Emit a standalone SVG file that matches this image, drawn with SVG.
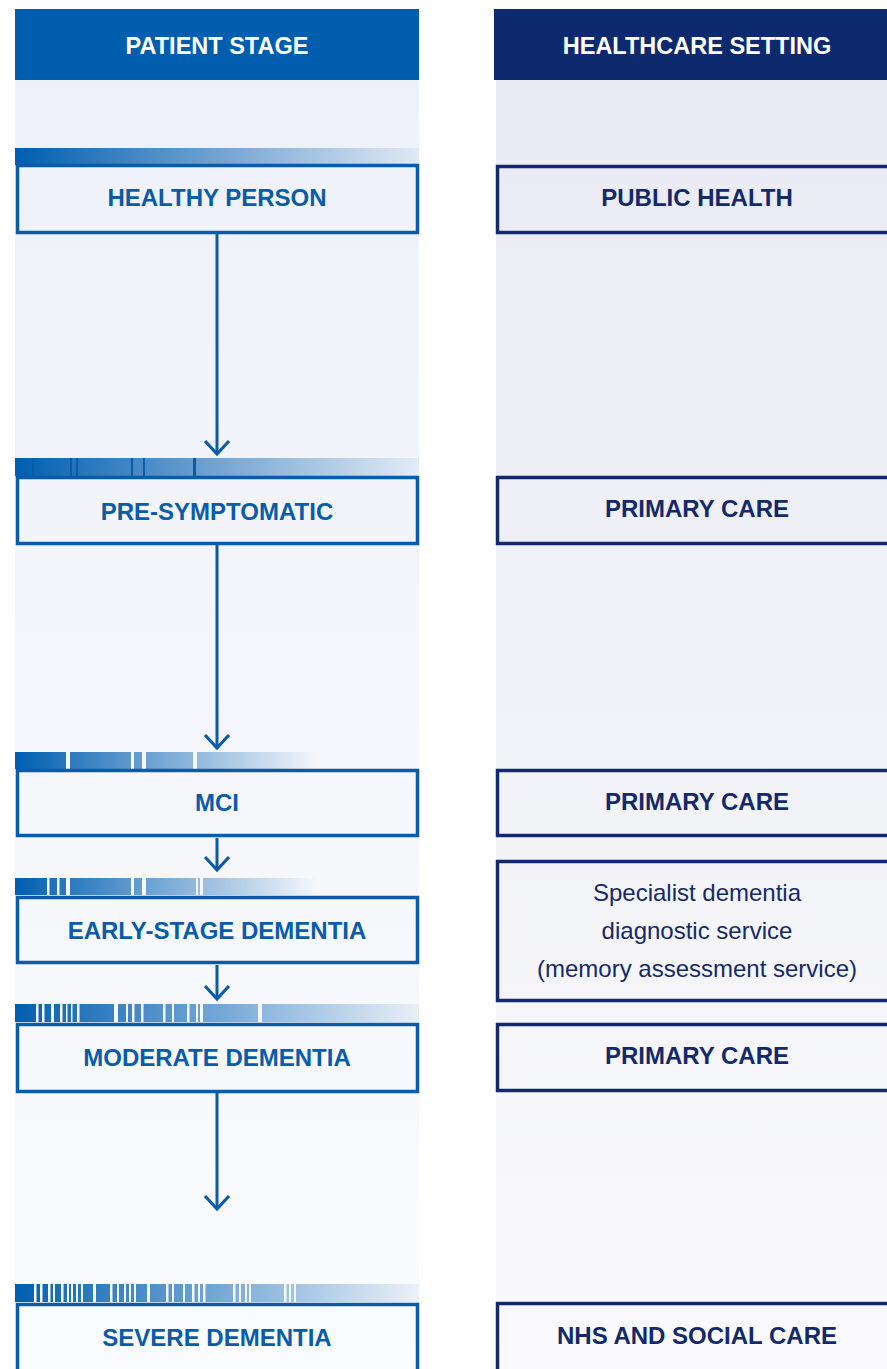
<svg xmlns="http://www.w3.org/2000/svg" width="887" height="1369" viewBox="0 0 887 1369">
<defs>
<linearGradient id="bgL" x1="0" y1="0" x2="0" y2="1"><stop offset="0" stop-color="#EEF1F9"/><stop offset="1" stop-color="#FAFBFD"/></linearGradient>
<linearGradient id="bgR" x1="0" y1="0" x2="0" y2="1"><stop offset="0" stop-color="#E9EAF3"/><stop offset="1" stop-color="#FAFAFC"/></linearGradient>
<linearGradient id="barFull" x1="0" y1="0" x2="1" y2="0"><stop offset="0" stop-color="#005EB0"/><stop offset="1" stop-color="#005EB0" stop-opacity="0.06"/></linearGradient>
<linearGradient id="barShort" x1="0" y1="0" x2="1" y2="0"><stop offset="0" stop-color="#005EB0"/><stop offset="0.75" stop-color="#005EB0" stop-opacity="0"/></linearGradient>
<marker id="chev" markerUnits="userSpaceOnUse" markerWidth="40" markerHeight="40" viewBox="-20 -20 40 40" refX="0" refY="0" orient="auto" overflow="visible">
<path d="M-13,-12 L0,0 L-13,12" fill="none" stroke="#0A5BA9" stroke-width="3.2"/>
</marker>
<style>
.hd{font-family:"Liberation Sans",Arial,sans-serif;font-weight:bold;font-size:23.5px;fill:#fff;text-anchor:middle}
.lb{fill:none;stroke:#0A5BA9;stroke-width:3.5}
.rb{fill:none;stroke:#13296B;stroke-width:3.5}
.lt{font-family:"Liberation Sans",Arial,sans-serif;font-weight:bold;font-size:24px;fill:#0A5BA9;text-anchor:middle}
.rt{font-family:"Liberation Sans",Arial,sans-serif;font-weight:bold;font-size:24px;fill:#13296B;text-anchor:middle}
.rn{font-family:"Liberation Sans",Arial,sans-serif;font-size:24px;fill:#13296B;text-anchor:middle}
.cn{stroke:#0A5BA9;stroke-width:3;fill:none;marker-end:url(#chev)}
.w{fill:#F5F7FB}
.d{fill:#0A5BA9}
</style>
</defs>
<rect width="887" height="1369" fill="#FFFFFF"/>
<rect x="15" y="80" width="404" height="1289" fill="url(#bgL)"/>
<rect x="496" y="80" width="391" height="1289" fill="url(#bgR)"/>
<g id="header-patient">
<rect x="15" y="9" width="404" height="71" fill="#015DAD"/>
<text class="hd" x="217" y="54">PATIENT STAGE</text>
</g>
<g id="header-setting">
<rect x="494" y="9" width="393" height="71" fill="#0E2A6F"/>
<text class="hd" x="697" y="54">HEALTHCARE SETTING</text>
</g>
<g id="connectors">
<line class="cn" x1="217" y1="234" x2="217" y2="454"/>
<line class="cn" x1="217" y1="545" x2="217" y2="748"/>
<line class="cn" x1="217" y1="838" x2="217" y2="870"/>
<line class="cn" x1="217" y1="965" x2="217" y2="999"/>
<line class="cn" x1="217" y1="1093" x2="217" y2="1209"/>
</g>
<g id="node-healthy">
<rect x="15" y="148" width="404" height="17" fill="url(#barFull)"/>
<rect class="lb" x="17.5" y="165.5" width="400" height="67"/>
<text class="lt" x="217" y="206">HEALTHY PERSON</text>
</g>
<g id="node-presymptomatic">
<rect x="15" y="458" width="404" height="18" fill="url(#barFull)"/>
<g class="d"><rect x="32" y="458" width="2" height="18"/><rect x="70" y="458" width="2" height="18"/><rect x="76" y="458" width="2" height="18"/><rect x="131" y="458" width="2" height="18"/><rect x="143" y="458" width="2" height="18"/><rect x="193" y="458" width="3" height="18"/></g>
<rect class="lb" x="17.5" y="477.5" width="400" height="66"/>
<text class="lt" x="217" y="520">PRE-SYMPTOMATIC</text>
</g>
<g id="node-mci">
<rect x="15" y="752" width="404" height="17" fill="url(#barShort)"/>
<g class="w"><rect x="66" y="752" width="4" height="17"/><rect x="131" y="752" width="3" height="17"/><rect x="142" y="752" width="4" height="17"/><rect x="193" y="752" width="4" height="17"/></g>
<rect class="lb" x="17.5" y="770.5" width="400" height="65"/>
<text class="lt" x="217" y="811">MCI</text>
</g>
<g id="node-early">
<rect x="15" y="878" width="404" height="17" fill="url(#barShort)"/>
<g class="w"><rect x="47" y="878" width="2.5" height="17"/><rect x="57" y="878" width="2.5" height="17"/><rect x="66" y="878" width="4" height="17"/><rect x="131" y="878" width="3" height="17"/><rect x="142" y="878" width="4" height="17"/><rect x="196" y="878" width="2" height="17"/><rect x="200" y="878" width="3" height="17"/></g>
<rect class="lb" x="17.5" y="897.5" width="400" height="65"/>
<text class="lt" x="217" y="939">EARLY-STAGE DEMENTIA</text>
</g>
<g id="node-moderate">
<rect x="15" y="1004" width="404" height="18" fill="url(#barFull)"/>
<g class="w"><rect x="36" y="1004" width="2.5" height="18"/><rect x="42" y="1004" width="2.5" height="18"/><rect x="51" y="1004" width="3" height="18"/><rect x="60" y="1004" width="2.5" height="18"/><rect x="66" y="1004" width="1.5" height="18"/><rect x="71" y="1004" width="1.5" height="18"/><rect x="77" y="1004" width="2.5" height="18"/><rect x="114" y="1004" width="4" height="18"/><rect x="126" y="1004" width="2" height="18"/><rect x="132" y="1004" width="2.5" height="18"/><rect x="141" y="1004" width="2.5" height="18"/><rect x="163" y="1004" width="2.5" height="18"/><rect x="172" y="1004" width="2" height="18"/><rect x="187" y="1004" width="2.5" height="18"/><rect x="196" y="1004" width="2" height="18"/><rect x="200" y="1004" width="3" height="18"/><rect x="258" y="1004" width="4" height="18"/></g>
<rect class="lb" x="17.5" y="1024.5" width="400" height="67"/>
<text class="lt" x="217" y="1066">MODERATE DEMENTIA</text>
</g>
<g id="node-severe">
<rect x="15" y="1284" width="404" height="18" fill="url(#barFull)"/>
<g class="w"><rect x="34" y="1284" width="2.5" height="18"/><rect x="40" y="1284" width="2.5" height="18"/><rect x="48" y="1284" width="2.5" height="18"/><rect x="53" y="1284" width="2" height="18"/><rect x="61" y="1284" width="2.5" height="18"/><rect x="67" y="1284" width="2" height="18"/><rect x="71" y="1284" width="2" height="18"/><rect x="76" y="1284" width="2" height="18"/><rect x="81" y="1284" width="2" height="18"/><rect x="93" y="1284" width="3" height="18"/><rect x="110" y="1284" width="2.5" height="18"/><rect x="117" y="1284" width="2" height="18"/><rect x="124" y="1284" width="2" height="18"/><rect x="129" y="1284" width="2" height="18"/><rect x="134" y="1284" width="2" height="18"/><rect x="147" y="1284" width="3" height="18"/><rect x="166" y="1284" width="2.5" height="18"/><rect x="172" y="1284" width="2" height="18"/><rect x="183" y="1284" width="2" height="18"/><rect x="192" y="1284" width="2.5" height="18"/><rect x="198" y="1284" width="2" height="18"/><rect x="203" y="1284" width="2.5" height="18"/><rect x="233" y="1284" width="2.5" height="18"/><rect x="239" y="1284" width="2" height="18"/><rect x="245" y="1284" width="2" height="18"/><rect x="249" y="1284" width="2" height="18"/><rect x="284" y="1284" width="2.5" height="18"/><rect x="289" y="1284" width="2" height="18"/><rect x="294" y="1284" width="2" height="18"/></g>
<rect class="lb" x="17.5" y="1304.5" width="400" height="70"/>
<text class="lt" x="217" y="1346">SEVERE DEMENTIA</text>
</g>
<g id="node-public-health">
<rect class="rb" x="497.5" y="166.5" width="400" height="66"/>
<text class="rt" x="697" y="206">PUBLIC HEALTH</text>
</g>
<g id="node-primary-1">
<rect class="rb" x="497.5" y="477.5" width="400" height="66"/>
<text class="rt" x="697" y="517">PRIMARY CARE</text>
</g>
<g id="node-primary-2">
<rect class="rb" x="497.5" y="770.5" width="400" height="65"/>
<text class="rt" x="697" y="810">PRIMARY CARE</text>
</g>
<g id="node-specialist">
<rect class="rb" x="497.5" y="861.5" width="400" height="139"/>
<text class="rn" x="697" y="901">Specialist dementia</text>
<text class="rn" x="697" y="939">diagnostic service</text>
<text class="rn" x="697" y="977">(memory assessment service)</text>
</g>
<g id="node-primary-3">
<rect class="rb" x="497.5" y="1024.5" width="400" height="66"/>
<text class="rt" x="697" y="1064">PRIMARY CARE</text>
</g>
<g id="node-nhs">
<rect class="rb" x="497.5" y="1303.5" width="400" height="70"/>
<text class="rt" x="697" y="1344">NHS AND SOCIAL CARE</text>
</g>
</svg>
